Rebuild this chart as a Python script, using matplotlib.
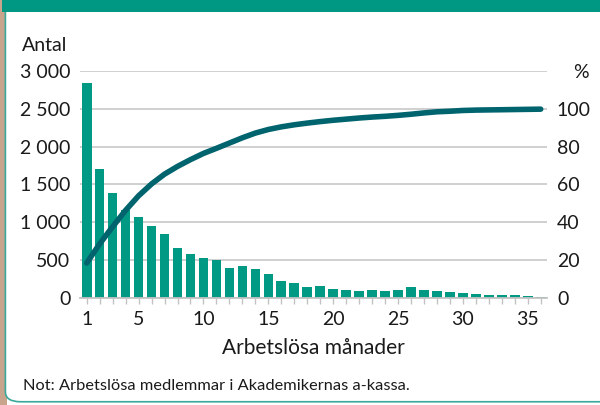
import matplotlib
matplotlib.use("Agg")
import matplotlib.pyplot as plt
from matplotlib.patches import Rectangle, FancyBboxPatch
from matplotlib.ticker import FuncFormatter

plt.rcParams["font.family"] = ["Lato", "DejaVu Sans"]

# unemployed members by number of months out of work
months = list(range(1, 37))
antal = [2850, 1700, 1390, 1160, 1070, 950, 840, 655, 580, 525, 500, 395,
         420, 380, 315, 222, 195, 137, 150, 115, 102, 88, 102, 88, 102, 137,
         102, 88, 75, 62, 49, 35, 35, 35, 22, 6]
# cumulative share, percent
andel = [18.3, 28.5, 37.6, 46.3, 54.0, 60.3, 65.5, 69.6, 73.2, 76.5, 79.2,
         82.0, 84.8, 87.3, 89.2, 90.6, 91.7, 92.6, 93.4, 94.1, 94.7, 95.3,
         95.8, 96.2, 96.7, 97.3, 98.0, 98.6, 98.9, 99.3, 99.5, 99.6, 99.7,
         99.8, 99.9, 100.0]

xticks = [1, 5, 10, 15, 20, 25, 30, 35]
left_ticks = list(range(0, 3001, 500))
right_ticks = list(range(0, 101, 20))

teal = "#009a84"
dark = "#00646e"
grid = "#c3c3c3"
text = "#1a1a1a"
fs = 14

fig = plt.figure(figsize=(6, 4.05), dpi=100, facecolor="white")

# frame around the panel
fig.patches.append(Rectangle((0, 0), 0.012, 1, transform=fig.transFigure,
                             facecolor="#c9a48c", edgecolor="none", zorder=0))
fig.patches.append(FancyBboxPatch((0.009, 0.008), 1.2, 1.0,
                                  boxstyle="round,pad=0,rounding_size=0.025",
                                  transform=fig.transFigure, facecolor="white",
                                  edgecolor="#3aa89a", lw=1.2, zorder=1))
fig.patches.append(Rectangle((0.004, 0.970), 1, 0.03, transform=fig.transFigure,
                             facecolor="#009883", edgecolor="none", zorder=2))

ax = fig.add_axes([0.1337, 0.2654, 0.7783, 0.5581])
ax.set_zorder(3)
ax.bar(months, antal, width=0.74, color=teal, zorder=2)
ax.set_xlim(0.5, 36.5)
ax.set_ylim(0, 3000)
ax.set_yticks(left_ticks)
ax.yaxis.set_major_formatter(FuncFormatter(lambda v, p: f"{int(v):,}".replace(",", " ")))
ax.set_xticks(months)
ax.set_xticklabels([str(m) if m in xticks else "" for m in months])
ax.grid(axis="y", color=grid, lw=1.1, zorder=0)
for s in ["top", "left", "right"]:
    ax.spines[s].set_visible(False)
ax.spines["bottom"].set_color(grid)
ax.spines["bottom"].set_linewidth(1.3)
ax.tick_params(axis="y", length=0, pad=7, labelsize=fs, labelcolor=text)
ax.tick_params(axis="x", length=4, color=grid, width=1, pad=6,
               labelsize=fs, labelcolor=text)
ax.set_xlabel("Arbetslösa månader", fontsize=15, color=text, labelpad=7)

ax2 = ax.twinx()
ax2.plot(months, andel, color=dark, lw=4.0, solid_capstyle="round",
         solid_joinstyle="round")
ax2.set_ylim(0, 120)
ax2.set_yticks(right_ticks)
for s in ax2.spines.values():
    s.set_visible(False)
ax2.tick_params(axis="y", length=0, pad=7, labelsize=fs, labelcolor=text)

fig.text(0.037, 0.888, "Antal", fontsize=fs, color=text, va="center")
fig.text(0.982, 0.822, "%", fontsize=fs, color=text, va="center", ha="right")
fig.text(0.038, 0.048, "Not: Arbetslösa medlemmar i Akademikernas a-kassa.",
         fontsize=11.8, color=text, va="center")

fig.savefig("out.png", dpi=100, facecolor=fig.get_facecolor())
